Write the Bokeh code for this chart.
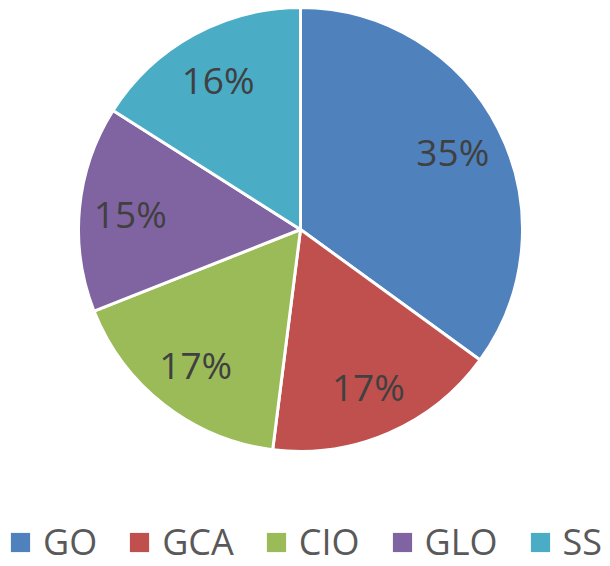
import math
from bokeh.plotting import figure
from bokeh.models import ColumnDataSource, Legend, LegendItem
from bokeh.core.properties import value
from bokeh.embed import file_html
from bokeh.resources import INLINE

# ---- data ----
categories = ["GO", "GCA", "CIO", "GLO", "SS"]
shares = [35, 17, 17, 15, 16]
colors = ["#4F81BD", "#C0504D", "#9BBB59", "#8064A2", "#4BACC6"]

# ---- layout ----
W, H = 610, 566
cx, cy, R = 300, 337, 222
label_frac = 0.77
FONT = "Open Sans"

total = sum(shares)
starts, ends, lx, ly, labels = [], [], [], [], []
cum = 0
for s in shares:
    a0 = math.pi / 2 - 2 * math.pi * cum / total
    cum += s
    a1 = math.pi / 2 - 2 * math.pi * cum / total
    starts.append(a0)
    ends.append(a1)
    mid = (a0 + a1) / 2
    lx.append(cx + label_frac * R * math.cos(mid))
    ly.append(cy + label_frac * R * math.sin(mid))
    labels.append(f"{round(100 * s / total)}%")

src = ColumnDataSource(dict(cat=categories, share=shares, color=colors,
                            start=starts, end=ends, lx=lx, ly=ly, label=labels))

p = figure(width=W, height=H, x_range=(0, W), y_range=(0, H),
           output_backend="svg", toolbar_location=None, min_border=0)
p.axis.visible = False
p.grid.visible = False
p.outline_line_color = None
p.background_fill_color = "white"
p.border_fill_color = "white"

p.wedge(x=cx, y=cy, radius=R, start_angle="start", end_angle="end",
        direction="clock", fill_color="color", line_color="white",
        line_width=3, source=src)

p.text(x="lx", y="ly", text="label", source=src, text_align="center",
       text_baseline="middle", text_font=value(FONT), text_font_size="37px",
       text_color="#404040")

items = []
for cat, c in zip(categories, colors):
    # off-screen point: only used to draw the legend swatch
    r = p.rect(x=[-1000], y=[-1000], width=1, height=1, fill_color=c, line_color=None)
    items.append(LegendItem(label=cat, renderers=[r]))

legend = Legend(items=items, orientation="horizontal", location=(8, 0),
                glyph_width=24, glyph_height=24, label_standoff=11, spacing=30,
                padding=0, margin=0, border_line_alpha=0, background_fill_alpha=0,
                label_text_font=FONT, label_text_font_size="36px",
                label_text_color="#595959")
p.add_layout(legend, "center")

open("out.html", "w").write(file_html(p, INLINE))
